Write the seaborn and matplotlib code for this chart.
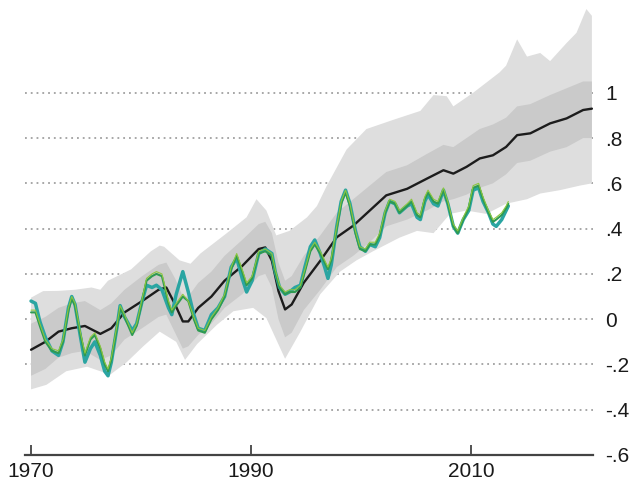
import matplotlib
matplotlib.use("Agg")
import matplotlib.pyplot as plt
import seaborn as sns

# --- model ensemble: mean and spread ---------------------------------------
mean_years = [1970.0, 1971.3, 1972.5, 1973.7, 1974.9, 1976.3, 1977.3, 1978.5, 1980.1, 1981.6,
              1982.3, 1983.1, 1983.8, 1984.3, 1985.2, 1986.4, 1987.6, 1989.2, 1990.7, 1991.3,
              1991.9, 1992.5, 1993.1, 1993.7, 1994.8, 1996.3, 1997.8, 1999.3, 2000.8, 2002.3,
              2004.2, 2006.0, 2007.5, 2008.4, 2009.6, 2010.8, 2012.0, 2013.2, 2014.2, 2015.4,
              2017.2, 2018.7, 2020.2, 2021.0]
model_mean = [-0.135, -0.10, -0.055, -0.04, -0.03, -0.065, -0.04, 0.03, 0.08, 0.13,
              0.14, 0.065, -0.01, -0.01, 0.05, 0.10, 0.17, 0.235, 0.31, 0.317,
              0.258, 0.124, 0.043, 0.065, 0.161, 0.258, 0.362, 0.413, 0.48, 0.547,
              0.576, 0.621, 0.658, 0.643, 0.673, 0.71, 0.724, 0.761, 0.813, 0.821,
              0.865, 0.887, 0.924, 0.93]
inner_hi = [-0.02, 0.01, 0.05, 0.07, 0.08, 0.04, 0.07, 0.13, 0.19, 0.24,
            0.25, 0.18, 0.10, 0.10, 0.16, 0.21, 0.28, 0.35, 0.42, 0.43,
            0.38, 0.25, 0.17, 0.19, 0.28, 0.37, 0.47, 0.53, 0.59, 0.65,
            0.68, 0.73, 0.77, 0.76, 0.80, 0.84, 0.86, 0.89, 0.94, 0.95,
            0.99, 1.02, 1.05, 1.05]
inner_lo = [-0.25, -0.22, -0.17, -0.15, -0.14, -0.18, -0.16, -0.09, -0.04, 0.01,
            0.02, -0.06, -0.13, -0.12, -0.07, -0.02, 0.05, 0.11, 0.19, 0.20,
            0.14, 0.0, -0.08, -0.06, 0.04, 0.13, 0.23, 0.28, 0.34, 0.41,
            0.44, 0.48, 0.52, 0.53, 0.55, 0.58, 0.60, 0.64, 0.69, 0.70,
            0.74, 0.76, 0.80, 0.80]

outer_hi_years = [1970.0, 1971.1, 1972.5, 1974.0, 1975.5, 1976.3, 1977.0, 1979.1, 1980.9, 1981.7,
                  1982.1, 1983.5, 1984.5, 1985.4, 1987.8, 1989.6, 1990.5, 1991.4, 1992.3, 1993.5,
                  1995.1, 1996.0, 1996.9, 1998.7, 2000.5, 2002.9, 2005.4, 2006.6, 2007.8, 2008.4,
                  2010.2, 2012.6, 2013.2, 2014.2, 2015.1, 2016.3, 2017.2, 2018.7, 2019.6, 2020.5,
                  2021.0]
outer_hi = [0.095, 0.124, 0.125, 0.13, 0.14, 0.13, 0.17, 0.22, 0.30, 0.325,
            0.32, 0.26, 0.245, 0.29, 0.38, 0.45, 0.53, 0.48, 0.37, 0.39,
            0.45, 0.50, 0.59, 0.75, 0.84, 0.88, 0.92, 0.99, 0.985, 0.94,
            1.00, 1.09, 1.12, 1.236, 1.16, 1.176, 1.14, 1.22, 1.265, 1.37,
            1.34]
outer_lo_years = [1970.0, 1971.4, 1973.2, 1975.1, 1977.2, 1978.7, 1980.2, 1981.7, 1983.2, 1984.0,
                  1985.1, 1986.9, 1988.4, 1990.2, 1991.4, 1993.1, 1994.5, 1996.3, 1998.1, 1999.6,
                  2001.1, 2003.5, 2005.1, 2006.6, 2008.1, 2009.6, 2011.4, 2013.2, 2015.1, 2016.3,
                  2018.1, 2019.9, 2021.0]
outer_lo = [-0.31, -0.29, -0.23, -0.21, -0.245, -0.19, -0.12, -0.055, -0.10, -0.18,
            -0.11, -0.025, 0.035, 0.05, 0.005, -0.175, -0.055, 0.11, 0.21, 0.26,
            0.30, 0.36, 0.39, 0.38, 0.465, 0.48, 0.465, 0.51, 0.53, 0.555,
            0.57, 0.59, 0.60]

# --- observed records --------------------------------------------------------
obs_years = [1970.0, 1970.4, 1970.8, 1971.3, 1971.9, 1972.5, 1972.9, 1973.4, 1973.7, 1974.0,
             1974.5, 1974.9, 1975.4, 1975.8, 1976.3, 1976.7, 1977.0, 1977.3, 1977.8, 1978.1,
             1978.5, 1979.2, 1979.6, 1980.1, 1980.5, 1981.0, 1981.4, 1981.9, 1982.5, 1982.8,
             1983.2, 1983.8, 1984.3, 1984.8, 1985.2, 1985.8, 1986.4, 1987.0, 1987.6, 1988.2,
             1988.7, 1989.2, 1989.6, 1990.1, 1990.7, 1991.3, 1991.9, 1992.2, 1992.6, 1993.1,
             1993.5, 1994.0, 1994.5, 1994.9, 1995.4, 1995.8, 1996.3, 1996.7, 1997.0, 1997.3,
             1997.8, 1998.2, 1998.6, 1999.0, 1999.5, 1999.9, 2000.4, 2000.8, 2001.3, 2001.7,
             2002.2, 2002.6, 2003.1, 2003.5, 2004.2, 2004.6, 2005.1, 2005.4, 2005.8, 2006.1,
             2006.6, 2007.0, 2007.5, 2007.9, 2008.4, 2008.8, 2009.3, 2009.8, 2010.2, 2010.7,
             2011.1, 2011.6, 2012.0, 2012.3, 2012.8, 2013.2, 2013.4]
obs_teal = [0.08, 0.07, -0.01, -0.08, -0.14, -0.16, -0.10, 0.05, 0.10, 0.065,
            -0.08, -0.19, -0.13, -0.10, -0.16, -0.23, -0.25, -0.19, -0.04, 0.06,
            0.01, -0.05, -0.02, 0.08, 0.15, 0.14, 0.15, 0.13, 0.05, 0.02,
            0.11, 0.21, 0.12, 0.02, -0.04, -0.05, 0.02, 0.05, 0.10, 0.23,
            0.27, 0.18, 0.12, 0.17, 0.29, 0.31, 0.29, 0.21, 0.14, 0.11,
            0.12, 0.14, 0.15, 0.23, 0.32, 0.35, 0.29, 0.23, 0.18, 0.24,
            0.41, 0.52, 0.57, 0.51, 0.39, 0.32, 0.30, 0.33, 0.32, 0.36,
            0.47, 0.52, 0.51, 0.47, 0.50, 0.51, 0.45, 0.44, 0.52, 0.55,
            0.51, 0.50, 0.57, 0.51, 0.41, 0.38, 0.44, 0.48, 0.57, 0.58,
            0.52, 0.47, 0.42, 0.41, 0.44, 0.48, 0.50]
obs_green = [0.03, 0.03, -0.03, -0.10, -0.14, -0.15, -0.10, 0.04, 0.09, 0.06,
             -0.07, -0.16, -0.09, -0.07, -0.13, -0.20, -0.23, -0.18, -0.04, 0.05,
             0.01, -0.07, -0.03, 0.08, 0.17, 0.19, 0.20, 0.19, 0.07, 0.03,
             0.06, 0.10, 0.08, 0.0, -0.05, -0.06, 0.0, 0.04, 0.10, 0.22,
             0.28, 0.21, 0.15, 0.18, 0.29, 0.30, 0.28, 0.21, 0.14, 0.11,
             0.12, 0.12, 0.14, 0.21, 0.30, 0.33, 0.29, 0.25, 0.22, 0.26,
             0.40, 0.51, 0.56, 0.50, 0.38, 0.31, 0.30, 0.33, 0.33, 0.37,
             0.47, 0.52, 0.51, 0.47, 0.50, 0.52, 0.46, 0.45, 0.53, 0.56,
             0.52, 0.51, 0.57, 0.51, 0.41, 0.38, 0.44, 0.49, 0.58, 0.59,
             0.53, 0.47, 0.43, 0.44, 0.46, 0.49, 0.51]
obs_lime = [0.04, 0.04, -0.02, -0.09, -0.13, -0.14, -0.09, 0.05, 0.10, 0.07,
            -0.06, -0.15, -0.08, -0.06, -0.12, -0.19, -0.22, -0.17, -0.03, 0.06,
            0.02, -0.06, -0.02, 0.09, 0.18, 0.20, 0.21, 0.20, 0.08, 0.04,
            0.07, 0.11, 0.08, 0.01, -0.04, -0.05, 0.01, 0.05, 0.11, 0.23,
            0.29, 0.22, 0.16, 0.19, 0.30, 0.31, 0.29, 0.22, 0.15, 0.12,
            0.13, 0.13, 0.15, 0.22, 0.31, 0.34, 0.30, 0.26, 0.23, 0.27,
            0.41, 0.52, 0.57, 0.51, 0.39, 0.32, 0.31, 0.34, 0.34, 0.38,
            0.48, 0.53, 0.52, 0.48, 0.51, 0.53, 0.47, 0.46, 0.54, 0.57,
            0.53, 0.52, 0.58, 0.52, 0.42, 0.39, 0.45, 0.50, 0.59, 0.60,
            0.54, 0.48, 0.44, 0.45, 0.47, 0.50, 0.52]

x_ticks = [1970, 1990, 2010]
y_ticks = [-0.6, -0.4, -0.2, 0.0, 0.2, 0.4, 0.6, 0.8, 1.0]
y_tick_labels = ["-.6", "-.4", "-.2", "0", ".2", ".4", ".6", ".8", "1"]

# --- styling -----------------------------------------------------------------
sns.set_theme(style="white")
plt.rcParams["font.family"] = ["Liberation Sans", "DejaVu Sans"]

fig = plt.figure(figsize=(6.33, 4.82), dpi=100)
ax = fig.add_axes([25 / 633, 27 / 482, 568 / 633, 455 / 482])

# outer (full range) spread
ax.fill(outer_hi_years + outer_lo_years[::-1], outer_hi + outer_lo[::-1],
        color="#dedede", lw=0, zorder=1)
# inner (likely range) spread
ax.fill(mean_years + mean_years[::-1], inner_hi + inner_lo[::-1],
        color="#cacaca", lw=0, zorder=2)

sns.lineplot(x=mean_years, y=model_mean, color="#1c1c1c", lw=1.7, ax=ax, zorder=5)
sns.lineplot(x=obs_years, y=obs_teal, color="#2aa5a2", lw=2.5, ax=ax, zorder=6)
sns.lineplot(x=obs_years, y=obs_green, color="#2e9a52", lw=1.5, ax=ax, zorder=7)
sns.lineplot(x=obs_years, y=obs_lime, color="#8cc63f", lw=0.8, ax=ax, zorder=8)

ax.set_xlim(1969.45, 2021.1)
ax.set_ylim(-0.6, 1.41)

ax.set_xticks(x_ticks)
ax.set_xticklabels([str(v) for v in x_ticks])
ax.set_yticks(y_ticks)
ax.set_yticklabels(y_tick_labels)

ax.yaxis.tick_right()
ax.tick_params(axis="y", length=0, pad=9, labelsize=15, labelcolor="#1a1a1a")
ax.tick_params(axis="x", direction="in", length=7, width=1.3, color="#444444",
               pad=5, labelsize=15, labelcolor="#1a1a1a", bottom=True)

ax.set_axisbelow(True)
ax.yaxis.grid(True, linestyle=(0, (1, 2.2)), color="#a0a0a0", lw=1.3, zorder=0)
ax.xaxis.grid(False)

for side in ["top", "left", "right"]:
    ax.spines[side].set_visible(False)
ax.spines["bottom"].set_color("#444444")
ax.spines["bottom"].set_linewidth(1.6)
ax.spines["bottom"].set_zorder(10)

ax.set_xlabel("")
ax.set_ylabel("")
ax.set_facecolor("white")

fig.savefig("out.png", dpi=100, facecolor="white")
